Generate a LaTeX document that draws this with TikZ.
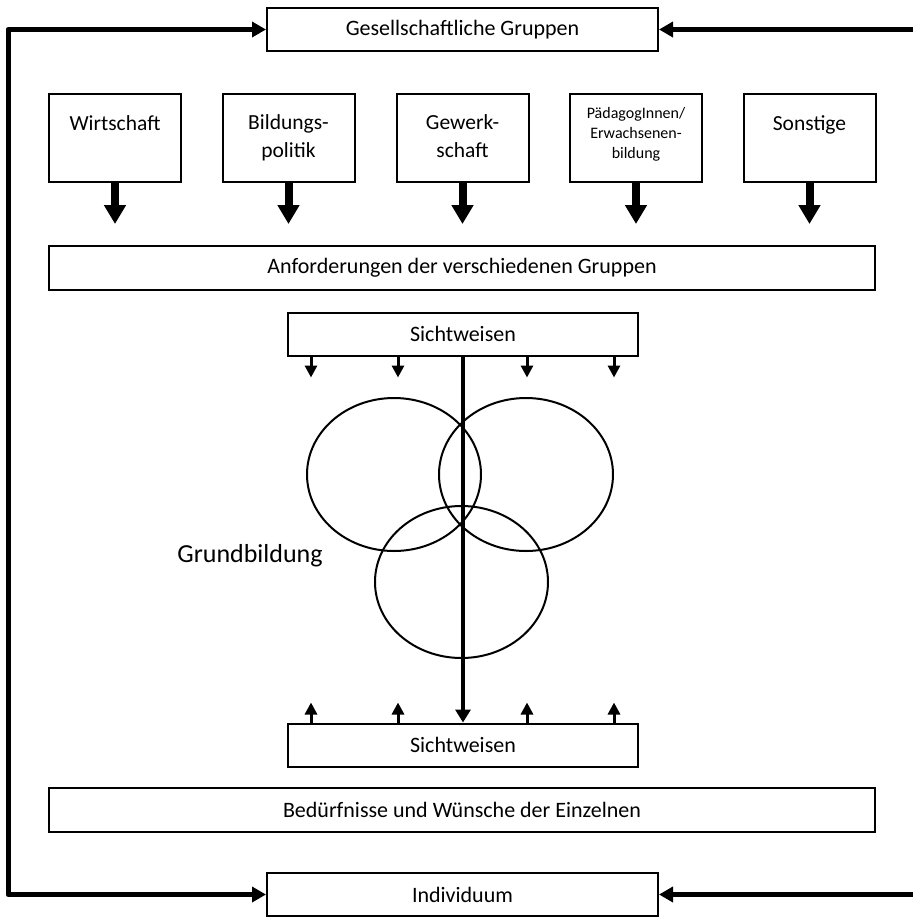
\documentclass[tikz,border=0pt]{standalone}
\usepackage{fontspec}
\setmainfont{Carlito}
\usetikzlibrary{arrows.meta}

\begin{document}
\begin{tikzpicture}[x=0.5pt,y=-0.5pt,
	box/.style={draw,line width=1pt,inner sep=0pt,font=\fontsize{11}{13}\selectfont},
	wide/.style={box,minimum width=413pt,minimum height=22pt},
	sicht/.style={box,minimum width=175pt,minimum height=21.5pt},
	grp/.style={box,minimum width=66pt,minimum height=44pt},
	grptxt/.style={anchor=north,inner sep=0pt,align=center,font=\fontsize{10.75}{14}\selectfont},
	big/.style={line width=4pt,-{Triangle[width=10.5pt,length=9.5pt]}},
	loop/.style={line width=2.5pt,line join=round,{Triangle[width=7.5pt,length=7pt]}-{Triangle[width=7.5pt,length=7pt]}},
	rarr/.style={line width=2.5pt,-{Triangle[width=7.5pt,length=7pt]}},
	tick/.style={line width=1.5pt,-{Triangle[width=6pt,length=6pt]}},
	axis/.style={line width=2pt,-{Triangle[width=7.5pt,length=6.5pt]}},
	ring/.style={line width=1pt}]
	\useasboundingbox (0,0) rectangle (913,917);
	
	\node[box,minimum width=195.5pt,minimum height=21.5pt] (gesell) at (462.5,29.5) {Gesellschaftliche Gruppen};
	\node[box,minimum width=195.5pt,minimum height=21.5pt] (indiv) at (462.5,894.5) {Individuum};
	
	\node[grp] (wirt) at (115,138) {};
	\node[grp] (bild) at (288.5,138) {};
	\node[grp] (gew) at (462.5,138) {};
	\node[grp] (paed) at (636,138) {};
	\node[grp] (sonst) at (809.5,138) {};
	\node[grptxt] (wirt-t) at ([yshift=-11pt]wirt.north) {Wirtschaft};
	\node[grptxt] (bild-t) at ([yshift=-10.5pt]bild.north) {Bildungs-\\politik};
	\node[grptxt] (gew-t) at ([yshift=-10.5pt]gew.north) {Gewerk-\\schaft};
	\node[grptxt,font=\fontsize{8}{10}\selectfont] (paed-t) at ([yshift=-7pt]paed.north) {PädagogInnen/\\Erwachsenen-\\bildung};
	\node[grptxt] (sonst-t) at ([yshift=-11pt]sonst.north) {Sonstige};
	
	\node[wide] (anf) at (462,268) {Anforderungen der verschiedenen Gruppen};
	\node[wide] (bed) at (462,809.5) {Bedürfnisse und Wünsche der Einzelnen};
	\node[sicht] (sicht1) at (463,334) {Sichtweisen};
	\node[sicht] (sicht2) at (463,745) {Sichtweisen};
	
	\node[font=\fontsize{13}{15.6}\selectfont] (grund) at (250,556) {Grundbildung};
	\draw[ring] (394,474.5) ellipse [x radius=43.5pt, y radius=38.25pt];
	\draw[ring] (526,474.5) ellipse [x radius=43.5pt, y radius=38.25pt];
	\draw[ring] (461.5,582) ellipse [x radius=43.25pt, y radius=38pt];
	
	\foreach \n in {wirt,bild,gew,paed,sonst}
		\draw[big] (\n.south) -- ++(0,41);
	\foreach \dx in {-76,-32.5,32,75.5}{
		\draw[tick] ([xshift=\dx pt]sicht1.south) -- ++(0,21);
		\draw[tick] ([xshift=\dx pt]sicht2.north) -- ++(0,-20);
	}
	\draw[axis] (sicht1.south) -- (sicht2.north);
	
	\coordinate (lt) at (8,29.5);
	\coordinate (lb) at (8,894.5);
	\coordinate (rt) at (913,29.5);
	\coordinate (rb) at (913,894.5);
	\draw[loop] (gesell.west) -- (lt) -- (lb) -- (indiv.west);
	\draw[rarr] (rt) -- (gesell.east);
	\draw[rarr] (rb) -- (indiv.east);
\end{tikzpicture}
\end{document}
